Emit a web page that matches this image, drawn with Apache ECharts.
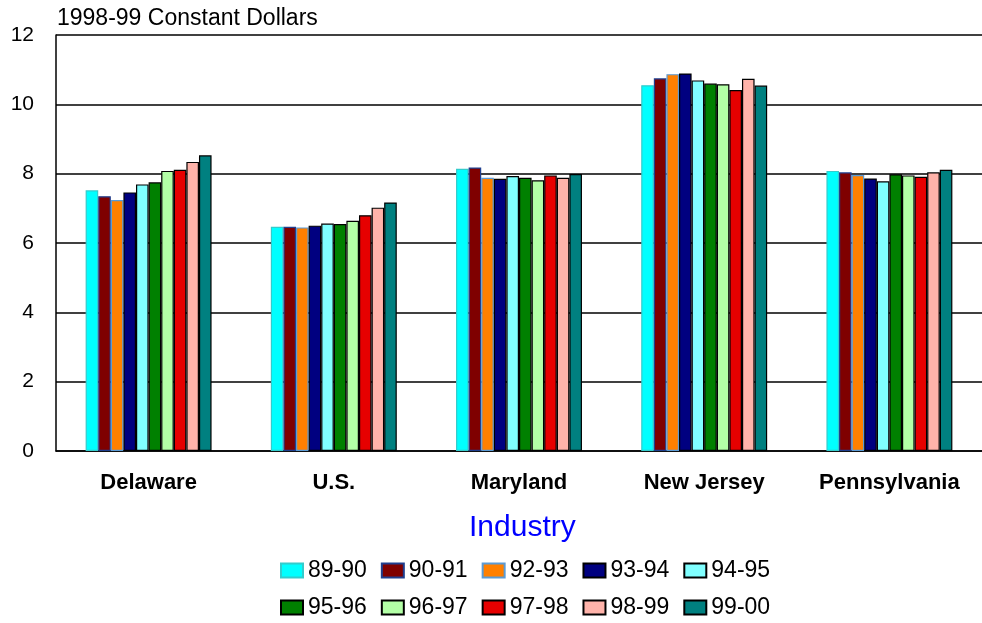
<!DOCTYPE html>
<html lang="en">
<head>
    <meta charset="UTF-8">
    <title>1998-99 Constant Dollars</title>
    <script src="https://cdn.jsdelivr.net/npm/echarts@6/dist/echarts.min.js"></script>
    <style>
        html, body { margin: 0; padding: 0; background: #fff; }
        #main { width: 982px; height: 623px; }
    </style>
</head>
<body>
    <div id="main"></div>
    <script>
        const states = ['Delaware', 'U.S.', 'Maryland', 'New Jersey', 'Pennsylvania'];
        const years = ['89-90', '90-91', '92-93', '93-94', '94-95', '95-96', '96-97', '97-98', '98-99', '99-00'];

        // values read per year, in order of states
        const y8990 = [7.52, 6.47, 8.14, 10.55, 8.08];
        const y9091 = [7.35, 6.47, 8.18, 10.75, 8.04];
        const y9293 = [7.24, 6.45, 7.88, 10.87, 7.96];
        const y9394 = [7.46, 6.50, 7.85, 10.89, 7.86];
        const y9495 = [7.69, 6.56, 7.93, 10.69, 7.78];
        const y9596 = [7.75, 6.55, 7.88, 10.60, 7.98];
        const y9697 = [8.08, 6.64, 7.81, 10.58, 7.95];
        const y9798 = [8.11, 6.80, 7.95, 10.41, 7.91];
        const y9899 = [8.34, 7.02, 7.88, 10.74, 8.04];
        const y9900 = [8.53, 7.17, 7.99, 10.54, 8.11];
        const values = [y8990, y9091, y9293, y9394, y9495, y9596, y9697, y9798, y9899, y9900];

        const colors = ['#00FFFF', '#7F0000', '#FF8000', '#000080', '#80FFFF',
                        '#008000', '#B3FFA6', '#E60000', '#FFB3AA', '#008080'];
        const borders = ['#33CCCC', '#1F3F8F', '#5B9BD5', '#000000', '#000000',
                         '#000000', '#000000', '#000000', '#000000', '#000000'];

        const chart = echarts.init(document.getElementById('main'));

        const option = {
            animation: false,
            title: [
                {
                    text: '1998-99 Constant Dollars',
                    left: 57,
                    top: 7,
                    padding: 0,
                    textStyle: { fontFamily: 'Liberation Sans', fontSize: 23, fontWeight: 'normal', color: '#000' }
                },
                {
                    text: 'Industry',
                    left: 469,
                    top: 513,
                    padding: 0,
                    textStyle: { fontFamily: 'Liberation Sans', fontSize: 30, fontWeight: 'normal', color: '#0000FF' }
                }
            ],
            legend: {
                left: 280,
                top: 559,
                width: 495,
                padding: 0,
                itemGap: 14,
                itemWidth: 22,
                itemHeight: 14,
                icon: 'rect',
                textStyle: { fontFamily: 'Liberation Sans', fontSize: 23, color: '#000', lineHeight: 20 },
                data: years
            },
            grid: {
                left: 56,
                right: 0,
                top: 35,
                bottom: 172
            },
            xAxis: {
                type: 'category',
                data: states,
                axisLine: { lineStyle: { color: '#000', width: 1.5 } },
                axisTick: { show: false },
                axisLabel: {
                    margin: 21,
                    fontFamily: 'Liberation Sans',
                    fontSize: 22,
                    fontWeight: 'bold',
                    color: '#000'
                }
            },
            yAxis: {
                type: 'value',
                min: 0,
                max: 12,
                interval: 2,
                axisLine: { show: true, lineStyle: { color: '#000', width: 1.5 } },
                axisTick: { show: false },
                splitLine: { lineStyle: { color: '#000', width: 1.5 } },
                axisLabel: {
                    margin: 22,
                    fontFamily: 'Liberation Sans',
                    fontSize: 21,
                    color: '#000'
                }
            },
            series: years.map((name, i) => ({
                name: name,
                type: 'bar',
                barGap: 0,
                barCategoryGap: '32%',
                itemStyle: {
                    color: colors[i],
                    borderColor: borders[i],
                    borderWidth: 1.2
                },
                data: values[i]
            }))
        };

        chart.setOption(option);
    </script>
</body>
</html>
